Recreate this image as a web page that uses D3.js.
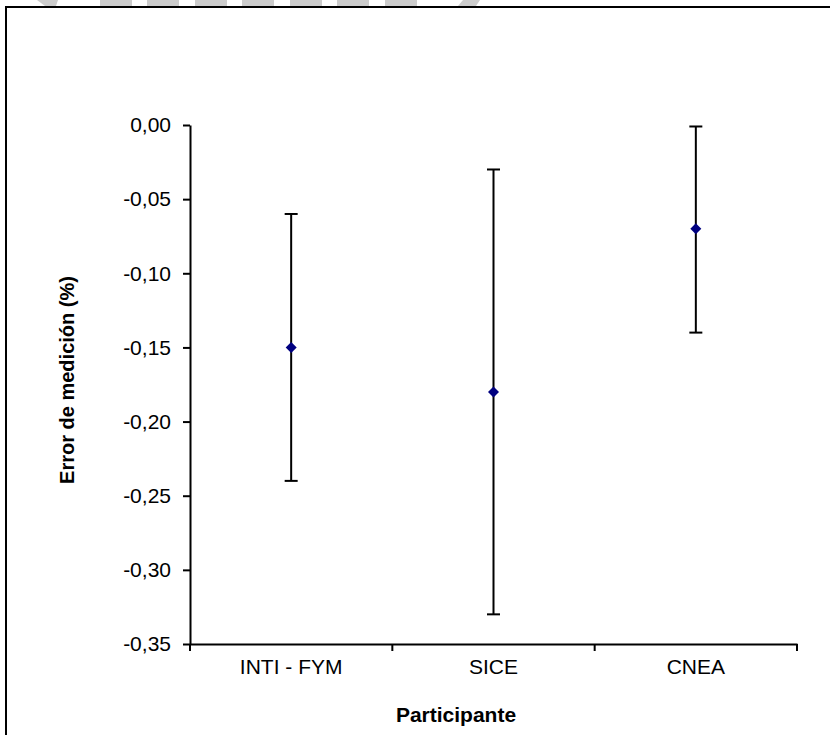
<!DOCTYPE html>
<html>
<head>
<meta charset="utf-8">
<script src="https://cdn.jsdelivr.net/npm/d3@7"></script>
<style>
  body { margin: 0; background: #fff; }
  svg { display: block; font-family: "Liberation Sans", Arial, sans-serif; }
</style>
</head>
<body>
<div id="chart"></div>
<script>
// data
var participantes = ['INTI - FYM', 'SICE', 'CNEA'];
var errores = [-0.15, -0.18, -0.07];
var limiteSup = [-0.06, -0.03, -0.001];
var limiteInf = [-0.24, -0.33, -0.14];
var yTicks = [0, -0.05, -0.10, -0.15, -0.20, -0.25, -0.30, -0.35];

var W = 830, H = 735;
var svg = d3.select('#chart').append('svg').attr('width', W).attr('height', H);

svg.append('rect').attr('width', W).attr('height', H).attr('fill', '#fff');

// grey bits of a watermark cut off at the top edge
var wm = svg.append('g').attr('fill', '#cccccc');
wm.append('path').attr('d', 'M37,0 L58,0 L56,6 L45,6 Z');
[100, 147, 195, 242, 290, 337, 385].forEach(function (x0) {
	wm.append('rect').attr('x', x0).attr('y', 0).attr('width', 32).attr('height', 6);
});
wm.append('path').attr('d', 'M463,0 L480,0 L476,6 L458,6 Z');

// outer frame (continues past the right and bottom edge)
svg.append('path')
	.attr('d', 'M6,' + (H + 5) + ' L6,7 L' + (W + 5) + ',7')
	.attr('fill', 'none')
	.attr('stroke', '#000')
	.attr('stroke-width', 2);

var y = d3.scaleLinear().domain([-0.35, 0]).range([644, 125]);
var x = d3.scaleBand().domain(participantes).range([190, 797]).padding(0);

var fmt = function (d) { return Math.abs(d) < 1e-9 ? '0,00' : d.toFixed(2).replace('.', ','); };

// y axis
var yAxis = svg.append('g')
	.attr('transform', 'translate(190,0)')
	.call(d3.axisLeft(y).tickValues(yTicks).tickSize(7).tickSizeOuter(0).tickPadding(12).tickFormat(fmt));
yAxis.select('.domain').attr('stroke-width', 2);
yAxis.selectAll('.tick line').attr('stroke-width', 2);
yAxis.selectAll('text').attr('font-size', 21).attr('fill', '#000')
	.attr('font-family', '"Liberation Sans", Arial, sans-serif');

// x axis: labels at band centres, ticks at band edges
var xAxis = svg.append('g')
	.attr('transform', 'translate(0,644)')
	.call(d3.axisBottom(x).tickSize(0).tickSizeOuter(0).tickPadding(15));
xAxis.select('.domain').attr('stroke-width', 2);
xAxis.selectAll('text').attr('font-size', 21).attr('fill', '#000')
	.attr('font-family', '"Liberation Sans", Arial, sans-serif');

var bordes = participantes.map(function (p) { return x(p); }).concat([x.range()[1]]);
xAxis.selectAll('.borde')
	.data(bordes)
	.enter()
	.append('line')
	.attr('class', 'borde')
	.attr('x1', function (d) { return d; })
	.attr('x2', function (d) { return d; })
	.attr('y1', 0)
	.attr('y2', 7)
	.attr('stroke', '#000')
	.attr('stroke-width', 2);

// error bars
var puntos = participantes.map(function (p, i) {
	return { p: p, v: errores[i], hi: limiteSup[i], lo: limiteInf[i] };
});
var cx = function (d) { return x(d.p) + x.bandwidth() / 2; };

var barras = svg.append('g').attr('stroke', '#000').attr('stroke-width', 2);
barras.selectAll('.vline').data(puntos).enter().append('line')
	.attr('x1', cx).attr('x2', cx)
	.attr('y1', function (d) { return y(d.hi); })
	.attr('y2', function (d) { return y(d.lo); });
['hi', 'lo'].forEach(function (k) {
	barras.selectAll('.cap-' + k).data(puntos).enter().append('line')
		.attr('x1', function (d) { return cx(d) - 6.5; })
		.attr('x2', function (d) { return cx(d) + 6.5; })
		.attr('y1', function (d) { return y(d[k]); })
		.attr('y2', function (d) { return y(d[k]); });
});

// diamond markers
svg.append('g').selectAll('path').data(puntos).enter().append('path')
	.attr('d', function (d) {
		var px = cx(d), py = y(d.v), r = 5.5;
		return 'M' + px + ',' + (py - r) + 'L' + (px + r) + ',' + py + 'L' + px + ',' + (py + r) + 'L' + (px - r) + ',' + py + 'Z';
	})
	.attr('fill', '#000080');

// axis titles
svg.append('text')
	.attr('transform', 'translate(74,380) rotate(-90)')
	.attr('text-anchor', 'middle')
	.attr('font-size', 20)
	.attr('font-weight', 'bold')
	.text('Error de medición (%)');

svg.append('text')
	.attr('x', 456)
	.attr('y', 722)
	.attr('text-anchor', 'middle')
	.attr('font-size', 21)
	.attr('font-weight', 'bold')
	.text('Participante');
</script>
</body>
</html>
